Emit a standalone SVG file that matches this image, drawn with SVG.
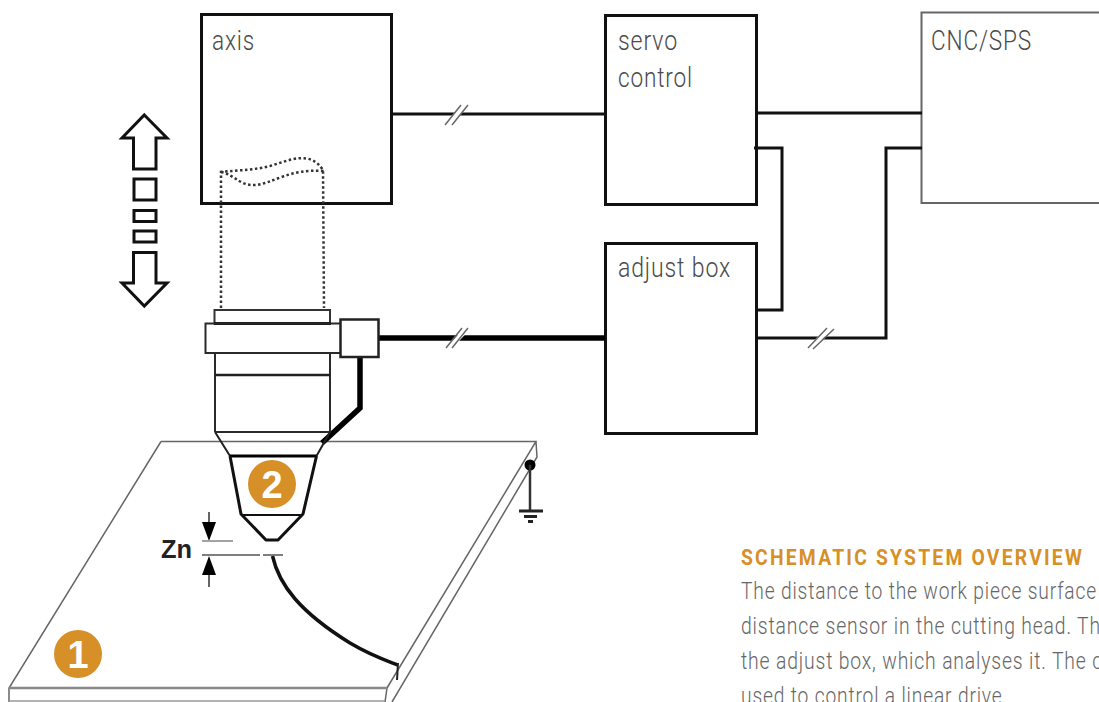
<svg xmlns="http://www.w3.org/2000/svg" width="1099" height="702" viewBox="0 0 1099 702">
<style>
.bg{fill:#fff}
.box{fill:none;stroke:#111;stroke-width:3}
.grey{fill:none;stroke:#666;stroke-width:2}
.wire{fill:none;stroke:#111;stroke-width:3;stroke-linejoin:miter}
.heavy{fill:none;stroke:#000;stroke-width:5.500}
.thin{fill:none;stroke:#666;stroke-width:1.500}
.part{fill:none;stroke:#2a2a2a;stroke-width:2}
.dot{fill:none;stroke:#333;stroke-width:2.500;stroke-dasharray:2.500 2.500}
.lbl{font-family:"Roboto","Liberation Sans",sans-serif;font-weight:300;font-size:27px;letter-spacing:1px;fill:#4a4a4a}
.body{font-family:"Roboto","Liberation Sans",sans-serif;font-weight:300;font-size:23px;letter-spacing:1px;fill:#666}
.title{font-family:"Roboto","Liberation Sans",sans-serif;font-weight:700;font-size:22px;letter-spacing:2.500px;fill:#d78f27}
.num{font-family:"Liberation Sans",sans-serif;font-weight:700;font-size:38px;fill:#fff;text-anchor:middle}
.badge{fill:#d78f27}
.slash{stroke:#666;stroke-width:1.500;fill:none}
.gap{stroke:#fff;stroke-width:5;fill:none}
</style>
<rect class="bg" width="1099" height="702"/>

<g id="workpiece">
<path class="thin" d="M161 441.500H536L387 688M161 441.500L9 688V702M387 688L385 702M536 442L537 457L392 702"/>
<path d="M9 688H387" stroke="#888" stroke-width="2.500" fill="none"/>
<path d="M9 701H385" stroke="#999" stroke-width="1.500" fill="none"/>
</g>

<g id="ground">
<circle cx="530" cy="465" r="5.500" fill="#000"/>
<path d="M530 465V510" stroke="#333" stroke-width="2.500" fill="none"/>
<path d="M519 511H543M524 516.500H537M528 521.500H533" stroke="#222" stroke-width="3" fill="none"/>
</g>

<g id="axis">
<rect class="box" x="201.500" y="14.500" width="190" height="189"/>
<text class="lbl" x="212" y="50" textLength="43" lengthAdjust="spacingAndGlyphs">axis</text>
</g>
<g id="servo-control">
<rect class="box" x="605.500" y="15.500" width="151" height="189"/>
<text class="lbl" x="618" y="50" textLength="60" lengthAdjust="spacingAndGlyphs">servo</text>
<text class="lbl" x="618" y="87" textLength="75" lengthAdjust="spacingAndGlyphs">control</text>
</g>
<g id="adjust-box">
<rect class="box" x="605.500" y="243.500" width="151" height="190"/>
<text class="lbl" x="618" y="277" textLength="113" lengthAdjust="spacingAndGlyphs">adjust box</text>
</g>
<g id="cnc-sps">
<path class="grey" d="M1099 12.500H921.500V203H1099"/>
<text class="lbl" x="931" y="50" textLength="101" lengthAdjust="spacingAndGlyphs">CNC/SPS</text>
</g>

<g id="connectors">
<path class="wire" d="M391 114H605"/>
<path class="gap" d="M451 120L463 108"/>
<path class="slash" d="M445 125L461 105M452 125L468 105"/>
<path class="wire" d="M756 113H922"/>
<path class="wire" d="M754 148H782V310H756"/>
<path class="wire" d="M922 148H886V338H756"/>
<path class="gap" d="M814 344L826 332"/>
<path class="slash" d="M808 348L827 328M813 349L834 329"/>
<path class="heavy" d="M379 338H605"/>
<path class="gap" d="M451 346L464 332"/>
<path class="slash" d="M446 348L462 328M452 348L468 328"/>
<path class="heavy" d="M360 357V408L322 443"/>
<path d="M272.500 556C279 585 300 612 350 643C372 656 385 660 398 665" fill="none" stroke="#111" stroke-width="3.500"/>
<path d="M398 663L397 680" fill="none" stroke="#222" stroke-width="2"/>
</g>

<g id="motion-arrows">
<path class="box" d="M144.300 115L167 138H156V169H133.500V138H122Z"/>
<rect class="box" x="134" y="179" width="22" height="21"/>
<rect class="box" x="134" y="210.500" width="22" height="11"/>
<rect class="box" x="134" y="231" width="22" height="11"/>
<path class="box" d="M133.500 252.500H156V283H167L144.300 306L122 283H133.500Z"/>
</g>

<g id="cutting-head">
<path class="dot" d="M221 308V172C240 170 255 170 270 166C290 160 310 150 323 170L324 308"/>
<path class="dot" d="M221 172C235 175 240 186 255 185C272 184 290 168 324 171"/>
<path class="part" d="M215 353V432M330 353V432"/>
<rect x="214.500" y="310" width="115.500" height="13.500" fill="#fff" stroke="#333" stroke-width="2"/>
<path d="M214 323.500H331" stroke="#111" stroke-width="3" fill="none"/>
<path class="part" d="M340 353H205.500V323.500H340"/>
<path d="M215 375H330" stroke="#222" stroke-width="2.500" fill="none"/>
<path class="part" d="M215 432H330"/>
<path d="M215 432L230 456M330 432L316.500 456" fill="none" stroke="#222" stroke-width="2"/>
<path d="M230 456H316.500" stroke="#000" stroke-width="3" fill="none"/>
<path d="M230 456L241 514L266 540H278L303 514L316.500 456" fill="none" stroke="#111" stroke-width="3" stroke-linejoin="round"/>
<path d="M241 515H303" stroke="#111" stroke-width="2" fill="none"/>
<rect x="340.500" y="319.500" width="38" height="37.500" fill="#fff" stroke="#222" stroke-width="2.500"/>
</g>

<g id="zn">
<text x="161" y="558" font-family="Liberation Sans, sans-serif" font-weight="700" font-size="25" fill="#222" textLength="31" lengthAdjust="spacingAndGlyphs">Zn</text>
<path d="M209 512V525M209 572V587" stroke="#333" stroke-width="1.500" fill="none"/>
<path d="M202 522H216L209 541ZM202 575H216L209 556Z" fill="#000"/>
<path d="M202 541H233" stroke="#999" stroke-width="1.800" fill="none"/>
<path d="M202 555H260M263 555H283" stroke="#555" stroke-width="1.500" fill="none"/>
</g>

<g id="badge-1">
<circle class="badge" cx="78" cy="654" r="24"/>
<text class="num" x="78" y="668">1</text>
</g>
<g id="badge-2">
<circle class="badge" cx="272" cy="484" r="24"/>
<text class="num" x="272" y="498">2</text>
</g>

<g id="caption">
<text class="title" x="741" y="565" textLength="343" lengthAdjust="spacingAndGlyphs">SCHEMATIC SYSTEM OVERVIEW</text>
<text class="body" x="741" y="599" textLength="356" lengthAdjust="spacingAndGlyphs">The distance to the work piece surface</text>
<text class="body" x="741" y="634" textLength="360" lengthAdjust="spacingAndGlyphs">distance sensor in the cutting head. Th</text>
<text class="body" x="741" y="669" textLength="362" lengthAdjust="spacingAndGlyphs">the adjust box, which analyses it. The c</text>
<text class="body" x="741" y="704" textLength="267" lengthAdjust="spacingAndGlyphs">used to control a linear drive.</text>
</g>
</svg>
